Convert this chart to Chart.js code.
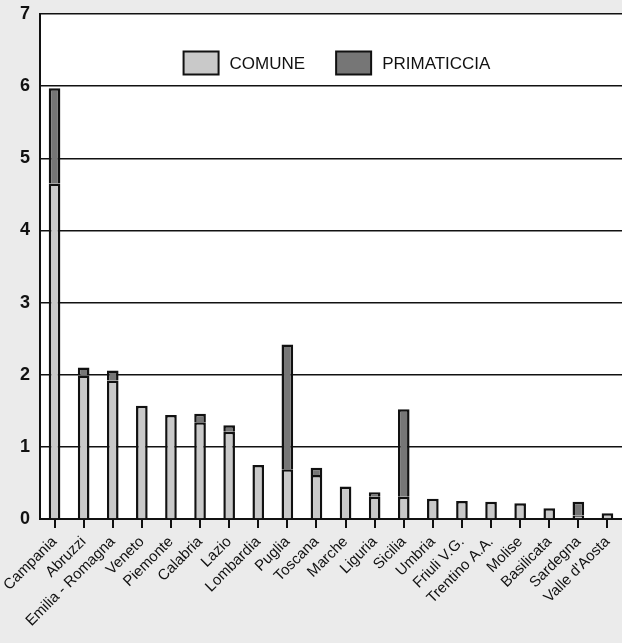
<!DOCTYPE html>
<html>
<head>
<meta charset="utf-8">
<script src="https://cdn.jsdelivr.net/npm/chart.js@4.4.1/dist/chart.umd.min.js"></script>
<style>
  html, body { margin: 0; padding: 0; background: #ebebeb; }
  #wrap { width: 622px; height: 643px; position: relative; }
</style>
</head>
<body>
<div id="wrap"><canvas id="chart"></canvas></div>
<script>
// regioni e valori
const regioni = ['Campania', 'Abruzzi', 'Emilia - Romagna', 'Veneto', 'Piemonte', 'Calabria', 'Lazio',
    'Lombardia', 'Puglia', 'Toscana', 'Marche', 'Liguria', 'Sicilia', 'Umbria', 'Friuli V.G.',
    'Trentino A.A.', 'Molise', 'Basilicata', 'Sardegna', "Valle d'Aosta"];
const comune = [4.65, 1.99, 1.92, 1.57, 1.44, 1.34, 1.21, 0.75, 0.69, 0.61, 0.45, 0.31, 0.31, 0.28, 0.25, 0.24, 0.22, 0.15, 0.05, 0.08];
const primaticcia = [1.32, 0.11, 0.14, 0, 0, 0.12, 0.09, 0, 1.73, 0.10, 0, 0.06, 1.21, 0, 0, 0, 0, 0, 0.19, 0];
const yTicks = [0, 1, 2, 3, 4, 5, 6, 7];

const FONT = 'Liberation Sans, Arial, sans-serif';

// sfondo bianco solo nell'area del grafico
const areaBianca = {
    id: 'areaBianca',
    beforeDraw(chart) {
        const { ctx, chartArea: a } = chart;
        ctx.save();
        ctx.fillStyle = '#ffffff';
        ctx.fillRect(a.left, a.top, a.right - a.left, a.bottom - a.top);
        ctx.restore();
    }
};

// legenda orizzontale dentro l'area del grafico, sopra la linea del 6
const legendaInterna = {
    id: 'legendaInterna',
    afterDraw(chart) {
        const { ctx, chartArea: a } = chart;
        const boxW = 35, boxH = 23, gapTxt = 11, gapItem = 31;
        ctx.save();
        ctx.font = '17px ' + FONT;
        const items = chart.data.datasets.map(ds => ({ ds, w: ctx.measureText(ds.label).width }));
        const total = items.reduce((s, it) => s + boxW + gapTxt + it.w, 0) + gapItem * (items.length - 1);
        let x = (a.left + a.right) / 2 + 6 - total / 2;
        const yc = a.top + 49;
        items.forEach(it => {
            ctx.fillStyle = it.ds.backgroundColor;
            ctx.fillRect(x, yc - boxH / 2, boxW, boxH);
            ctx.strokeStyle = '#111';
            ctx.lineWidth = 2;
            ctx.strokeRect(x, yc - boxH / 2, boxW, boxH);
            ctx.fillStyle = '#111';
            ctx.textBaseline = 'middle';
            ctx.fillText(it.ds.label, x + boxW + gapTxt, yc + 1);
            x += boxW + gapTxt + it.w + gapItem;
        });
        ctx.restore();
    }
};

new Chart(document.getElementById('chart'), {
    type: 'bar',
    data: {
        labels: regioni,
        datasets: [
            { label: 'COMUNE', data: comune, backgroundColor: '#c9c9c9', borderColor: '#111', borderWidth: 2.5, borderSkipped: 'bottom' },
            { label: 'PRIMATICCIA', data: primaticcia, backgroundColor: '#767676', borderColor: '#111', borderWidth: 2.5, borderSkipped: 'bottom' }
        ]
    },
    options: {
        responsive: true,
        maintainAspectRatio: false,
        animation: false,
        barPercentage: 0.4,
        categoryPercentage: 1,
        layout: { padding: { top: 14, right: 0, left: 0, bottom: 0 } },
        plugins: {
            tooltip: { enabled: false },
            legend: { display: false }
        },
        scales: {
            x: {
                stacked: true,
                grid: { offset: false, drawOnChartArea: false, color: '#111', lineWidth: 2, tickLength: 9, tickColor: '#111' },
                border: { color: '#111', width: 2 },
                ticks: {
                    minRotation: 45, maxRotation: 45, autoSkip: false, color: '#111', padding: 5,
                    font: { family: FONT, size: 15 }
                },
                afterFit(scale) { scale.height = 124; scale.paddingLeft = 0; scale.paddingRight = 0; }
            },
            y: {
                stacked: true,
                min: 0, max: 7,
                afterBuildTicks(scale) { scale.ticks = yTicks.map(v => ({ value: v })); },
                grid: { color: '#111', lineWidth: 1.5, drawTicks: false },
                border: { color: '#111', width: 2 },
                ticks: {
                    color: '#111', padding: 10,
                    font: { family: FONT, size: 18, weight: 'bold' }
                },
                afterFit(scale) { scale.width = 40; scale.paddingTop = 0; scale.paddingBottom = 0; }
            }
        }
    },
    plugins: [areaBianca, legendaInterna]
});
</script>
</body>
</html>
